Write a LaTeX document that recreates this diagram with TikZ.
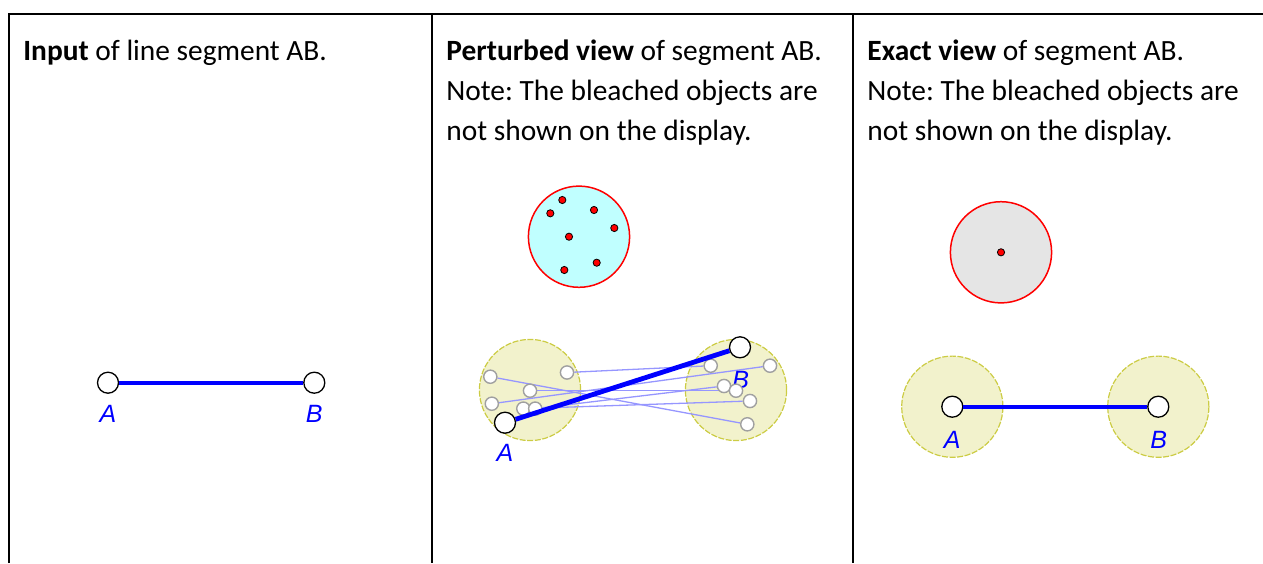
\documentclass[tikz,border=0pt]{standalone}
\usepackage{fontspec}
\setmainfont{Carlito}
\newfontfamily\labelfont{Liberation Sans}
\usetikzlibrary{backgrounds}
\frenchspacing

\definecolor{segblue}{RGB}{0,0,255}
\definecolor{bleachblue}{RGB}{150,150,255}
\definecolor{bleachgray}{RGB}{160,160,160}
\definecolor{cyanfill}{RGB}{192,255,255}
\definecolor{grayfill}{RGB}{229,229,229}
\definecolor{halofill}{RGB}{242,242,204}
\definecolor{halodraw}{RGB}{204,204,68}

\pgfdeclarelayer{halos}
\pgfdeclarelayer{links}
\pgfsetlayers{halos,links,main}

\tikzset{
  cell text/.style={anchor=base west, inner sep=0pt, font=\fontsize{14.7}{20}\selectfont},
  pt label/.style={inner sep=0pt, text=segblue, font=\labelfont\itshape\fontsize{12.5}{14}\selectfont},
  end point/.style={circle, draw=black, fill=white, line width=0.65pt, minimum size=10.5pt, inner sep=0pt},
  bleach point/.style={circle, draw=bleachgray, fill=white, line width=0.7pt, minimum size=6.6pt, inner sep=0pt},
  red dot/.style={circle, draw=black, fill=red, line width=0.4pt, minimum size=3.6pt, inner sep=0pt},
  disk/.style={circle, draw=red, line width=0.75pt, minimum size=50.6pt, inner sep=0pt},
  halo/.style={circle, draw=halodraw, fill=halofill, dash pattern=on 3pt off 0.8pt, line width=0.6pt, minimum size=50.6pt, inner sep=0pt},
  segment/.style={segblue, line width=2pt},
  bleach line/.style={bleachblue, line width=0.65pt},
  rule/.style={black, line width=1pt}
}

\begin{document}
\begin{tikzpicture}[x=0.5pt,y=0.5pt,yscale=-1]
\useasboundingbox (0,0) rectangle (1263,563);

%Table rules
\draw[rule, line width=1.25pt] (9,563) -- (9,14) -- (1263,14);
\draw[rule] (432,14) -- (432,563);
\draw[rule] (853,14) -- (853,563);

%Column texts
\node[cell text] (inTitle) at (23,60) {\textbf{Input} of line segment AB.};
\node[cell text] (ptTitle) at (446,60) {\textbf{Perturbed view} of segment AB.};
\node[cell text] (ptNote) at (446,100) {Note: The bleached objects are};
\node[cell text] (ptNoteb) at (446,140) {not shown on the display.};
\node[cell text] (exTitle) at (867,60) {\textbf{Exact view} of segment AB.};
\node[cell text] (exNote) at (867,100) {Note: The bleached objects are};
\node[cell text] (exNoteb) at (867,140) {not shown on the display.};

%Input: segment AB
\node[end point] (inA) at (108,382.7) {};
\node[end point] (inB) at (314.3,382.7) {};
\draw[segment] (inA) -- (inB);
\node[pt label] (inLA) at (108,414) {A};
\node[pt label] (inLB) at (314.3,414) {B};

%Perturbed: disk of red points
\node[disk, fill=cyanfill] (ptDisk) at (579,236.7) {};
\foreach \p/\q [count=\i] in {562.3/200, 550.3/213.3, 594/210, 614.3/228, 569/236.7, 596.7/262.7, 564.3/270}
  \node[red dot] (ptDot\i) at (\p,\q) {};

%Perturbed: halos round A and B
\begin{pgfonlayer}{halos}
\node[halo] (ptHaloA) at (530,390) {};
\node[halo] (ptHaloB) at (736,390) {};
\end{pgfonlayer}
\node[pt label] (ptLB) at (740.7,380) {B};
\node[pt label] (ptLA) at (505,453) {A};

%Perturbed: bleached copies
\foreach \p/\q [count=\i] in {490.3/376.7, 567/372.5, 530/390.7, 491.8/403.7, 523.3/408.6, 535.2/408.6}
  \node[bleach point] (ptL\i) at (\p,\q) {};
\foreach \p/\q [count=\i] in {710.7/365.7, 770/365.7, 724/386, 736/390.7, 750/401, 747.3/424.3}
  \node[bleach point] (ptR\i) at (\p,\q) {};
\begin{pgfonlayer}{links}
\foreach \i/\j in {1/6, 2/1, 3/4, 4/2, 5/5, 6/3}
  \draw[bleach line] (ptL\i) -- (ptR\j);
\end{pgfonlayer}

%Perturbed: segment AB
\node[end point] (ptA) at (505,422.7) {};
\node[end point] (ptB) at (740,347.3) {};
\draw[segment, line width=2.4pt] (ptA) -- (ptB);

%Exact: disk with one red point
\node[disk, fill=grayfill] (exDisk) at (1001,252.3) {};
\node[red dot] (exDot) at (1001,252.3) {};

%Exact: halos and segment AB
\node[halo] (exHaloA) at (952.3,406.7) {};
\node[halo] (exHaloB) at (1158.3,406.7) {};
\node[end point] (exA) at (952.3,406.7) {};
\node[end point] (exB) at (1158.3,406.7) {};
\draw[segment] (exA) -- (exB);
\node[pt label] (exLA) at (952.3,440) {A};
\node[pt label] (exLB) at (1158.7,440) {B};

\end{tikzpicture}
\end{document}
